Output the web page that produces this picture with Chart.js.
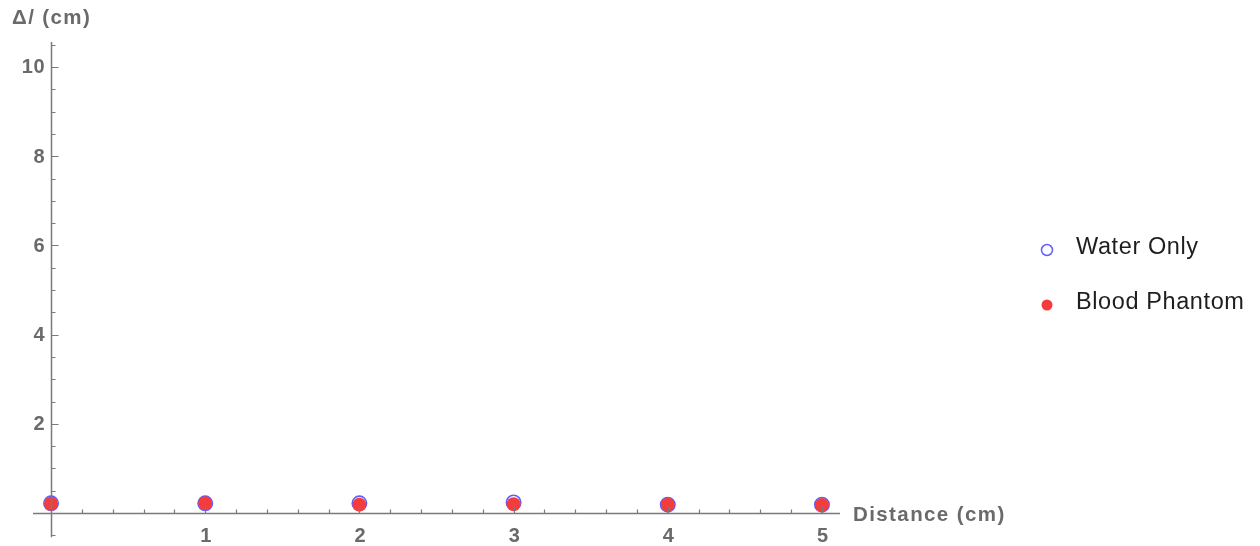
<!DOCTYPE html>
<html>
<head>
<meta charset="utf-8">
<script src="https://cdn.jsdelivr.net/npm/chart.js@4/dist/chart.umd.min.js"></script>
<style>
  html, body { margin: 0; padding: 0; background: #fff; }
  #wrap { width: 1260px; height: 546px; }
</style>
</head>
<body>
<div id="wrap"><canvas id="c" width="1260" height="546"></canvas></div>
<script>
// Distance along the tube (cm)
const distances = [0, 1, 2, 3, 4, 5];
// Measured shift for each medium (cm)
const waterOnly = [0.22, 0.22, 0.22, 0.24, 0.19, 0.19];
const bloodPhantom = [0.21, 0.22, 0.19, 0.20, 0.19, 0.18];
// Labelled ticks
const xTickValues = [1, 2, 3, 4, 5];
const yTickValues = [2, 4, 6, 8, 10];
const xAxisTitle = 'Distance (cm)';
const yAxisTitle = 'Δ/ (cm)';

const AXIS_COLOR = '#7a7a7a';
const LABEL_COLOR = '#6a6a6a';
const FAMILY = '"Liberation Sans", Arial, sans-serif';

// Axes crossing at the origin, with inward major and minor ticks
const crossedAxes = {
  id: 'crossedAxes',
  afterDraw(chart) {
    const { ctx, chartArea: a } = chart;
    const xs = chart.scales.x, ys = chart.scales.y;
    const x0 = Math.round(xs.getPixelForValue(0)) + 0.5;
    const y0 = Math.round(ys.getPixelForValue(0)) + 0.5;
    ctx.save();
    ctx.strokeStyle = AXIS_COLOR;
    ctx.lineWidth = 1.5;
    ctx.beginPath();
    ctx.moveTo(a.left, y0); ctx.lineTo(a.right, y0);
    ctx.moveTo(x0, a.top); ctx.lineTo(x0, a.bottom);
    ctx.stroke();

    ctx.lineWidth = 1.2;
    ctx.beginPath();
    // x ticks: minor every 0.2, major every 1
    for (let i = Math.ceil(xs.min / 0.2); i * 0.2 <= xs.max + 1e-9; i++) {
      const v = i * 0.2;
      if (Math.abs(v) < 1e-9) continue;
      const major = i % 5 === 0;
      const px = Math.round(xs.getPixelForValue(v)) + 0.5;
      ctx.moveTo(px, y0); ctx.lineTo(px, y0 - (major ? 7 : 4));
    }
    // y ticks: minor every 0.5, major every 2
    for (let i = Math.ceil(ys.min / 0.5); i * 0.5 <= ys.max + 1e-9; i++) {
      const v = i * 0.5;
      if (Math.abs(v) < 1e-9) continue;
      const major = i % 4 === 0;
      const py = Math.round(ys.getPixelForValue(v)) + 0.5;
      ctx.moveTo(x0, py); ctx.lineTo(x0 + (major ? 7 : 4), py);
    }
    ctx.stroke();

    ctx.fillStyle = LABEL_COLOR;
    ctx.font = 'bold 20px ' + FAMILY;
    ctx.letterSpacing = '0.8px';
    ctx.textBaseline = 'middle';
    ctx.textAlign = 'center';
    xTickValues.forEach(v => ctx.fillText(String(v), xs.getPixelForValue(v) + 1, y0 + 23));
    ctx.textAlign = 'right';
    yTickValues.forEach(v => ctx.fillText(String(v), x0 - 6, ys.getPixelForValue(v) + 1));

    ctx.textAlign = 'left';
    ctx.font = 'bold 20.5px ' + FAMILY;
    ctx.letterSpacing = '1.4px';
    ctx.fillText(xAxisTitle, a.right + 13, y0 + 2);
    ctx.fillText(yAxisTitle, 12, 18);

    // Legend
    const ds = chart.data.datasets;
    const lx = 1047, rows = [250, 305];
    ctx.font = '23.5px ' + FAMILY;
    ctx.letterSpacing = '0.6px';
    ds.forEach((d, i) => {
      const y = rows[i];
      ctx.beginPath();
      ctx.arc(lx, y, 5.5, 0, Math.PI * 2);
      if (d.legendFilled) {
        ctx.fillStyle = d.backgroundColor;
        ctx.fill();
      } else {
        ctx.strokeStyle = d.borderColor;
        ctx.lineWidth = 1.5;
        ctx.stroke();
      }
      ctx.fillStyle = '#1e1e1e';
      ctx.fillText(d.label, 1076, y - 2);
    });
    ctx.restore();
  }
};

new Chart(document.getElementById('c'), {
  type: 'scatter',
  data: {
    datasets: [
      {
        label: 'Water Only',
        data: distances.map((x, i) => ({ x, y: waterOnly[i] })),
        order: 2,
        pointRadius: 7.2,
        pointBorderWidth: 1.6,
        borderColor: 'rgb(95, 95, 255)',
        backgroundColor: 'rgba(255, 255, 255, 0)',
        legendFilled: false
      },
      {
        label: 'Blood Phantom',
        data: distances.map((x, i) => ({ x, y: bloodPhantom[i] })),
        order: 1,
        pointRadius: 7,
        pointBorderWidth: 0,
        borderColor: 'rgb(245, 60, 60)',
        backgroundColor: 'rgb(245, 60, 60)',
        legendFilled: true
      }
    ]
  },
  options: {
    responsive: false,
    animation: false,
    layout: { padding: { left: 33, right: 420, top: 42, bottom: 6 } },
    plugins: { legend: { display: false }, tooltip: { enabled: false } },
    scales: {
      x: { type: 'linear', min: -0.117, max: 5.117, display: false },
      y: { type: 'linear', min: -0.54, max: 10.56, display: false }
    }
  },
  plugins: [crossedAxes]
});
</script>
</body>
</html>
